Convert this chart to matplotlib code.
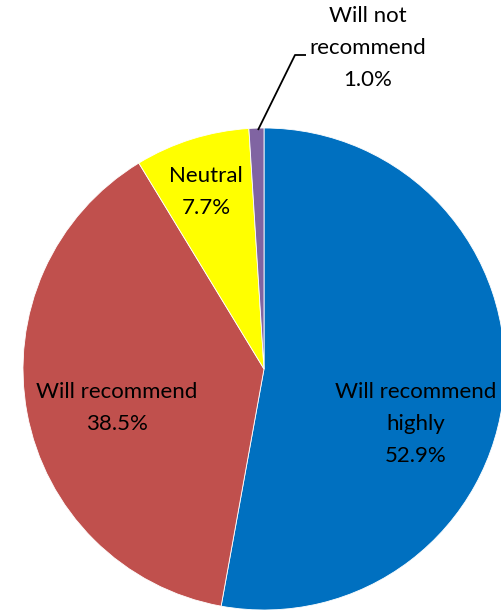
import matplotlib
matplotlib.use("Agg")
import matplotlib.pyplot as plt

categories = ["Will recommend highly", "Will recommend", "Neutral", "Will not recommend"]
label_text = ["Will recommend\nhighly\n52.9%", "Will recommend\n38.5%", "Neutral\n7.7%", "Will not\nrecommend\n1.0%"]
values = [52.9, 38.5, 7.7, 1.0]
colors = ["#0070C0", "#C0504D", "#FFFF00", "#8064A2"]

W, H = 501, 610
fig = plt.figure(figsize=(W / 100, H / 100), dpi=100)
ax = fig.add_axes([0, 0, 1, 1])

cx, cy, r = 264, H - 369, 241
ax.pie(values, colors=colors, startangle=90, counterclock=False,
       center=(cx, cy), radius=r, frame=True,
       wedgeprops=dict(edgecolor="white", linewidth=0.6))
ax.set_xlim(0, W)
ax.set_ylim(0, H)
ax.set_aspect("equal")
ax.axis("off")

font = dict(family="Lato", fontsize=16, color="black", ha="center", va="center", linespacing=1.72)
label_pos = [(416, 424), (117, 408), (206, 192), (368, 48)]
for txt, (x, y) in zip(label_text, label_pos):
    ax.text(x, H - y, txt, **font)

# leader line for the small slice
ax.plot([258, 295, 306], [H - 130, H - 55, H - 55], color="black", lw=1.3, solid_capstyle="butt")

fig.savefig("out.png", dpi=100)
